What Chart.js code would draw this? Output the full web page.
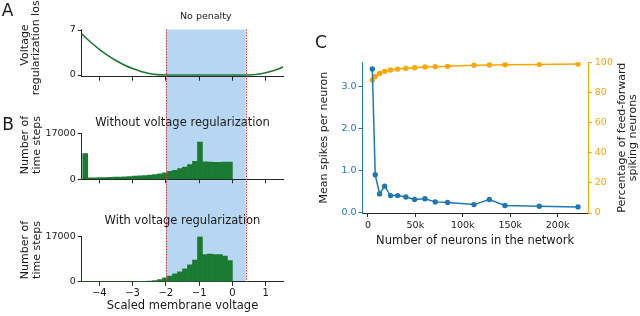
<!DOCTYPE html>
<html><head><meta charset="utf-8">
<script src="https://cdn.jsdelivr.net/npm/chart.js@4.4.1/dist/chart.umd.min.js"></script>
<style>
html,body{margin:0;padding:0;background:#fff;}
#wrap{position:relative;width:640px;height:316px;overflow:hidden;background:#fff;}
canvas{position:absolute;display:block;}
</style></head><body>
<div id="wrap">
<canvas id="cA" width="300" height="100" style="left:0;top:0;width:300px;height:100px"></canvas>
<canvas id="cB1" width="300" height="100" style="left:0;top:100px;width:300px;height:100px"></canvas>
<canvas id="cB2" width="300" height="116" style="left:0;top:200px;width:300px;height:116px"></canvas>
<canvas id="cC" width="340" height="316" style="left:300px;top:0;width:340px;height:316px"></canvas>
</div>
<script>
// ---------- data ----------
// Panel A: voltage regularization loss vs scaled membrane voltage
const lossVoltage = [-4.53, -4.25, -4.0, -3.75, -3.5, -3.25, -3.0, -2.75, -2.5, -2.25, -2.0, -1.0, 0.0, 0.4, 0.6, 0.8, 1.0, 1.2, 1.4, 1.53];
const lossValue   = [6.4, 5.06, 4.0, 3.06, 2.25, 1.56, 1.0, 0.56, 0.25, 0.06, 0.0, 0.0, 0.0, 0.0, 0.04, 0.16, 0.36, 0.64, 0.96, 1.28];
const noPenaltyRange = [-2.0, 0.4];
const voltageTicks = [-4, -3, -2, -1, 0, 1];

// Panel B: histogram bins (centres) and counts
const binCenters = [-4.425, -4.275, -4.125, -3.975, -3.825, -3.675, -3.525, -3.375, -3.225, -3.075,
                    -2.925, -2.775, -2.625, -2.475, -2.325, -2.175, -2.025, -1.875, -1.725, -1.575,
                    -1.425, -1.275, -1.125, -0.975, -0.825, -0.675, -0.525, -0.375, -0.225, -0.075];
const countsWithout = [9500, 500, 550, 600, 650, 700, 780, 850, 950, 1050,
                       1150, 1250, 1400, 1550, 1750, 2000, 2350, 2950, 3300, 3950,
                       4550, 5400, 6650, 13800, 6450, 6400, 6250, 6300, 6400, 6350];
const countsWith = [0, 0, 0, 0, 0, 0, 0, 0, 0, 0,
                    0, 50, 120, 250, 500, 870, 1490, 2100, 2980, 3720,
                    4840, 6330, 8060, 16740, 10170, 10300, 10170, 10170, 9550, 7940];
const countTicks = [0, 17000];

// Panel C
const neurons = [4600, 7700, 12300, 17600, 23900, 31300, 40000, 49200, 60100, 71000, 84000, 111800, 128000, 144500, 180700, 221500];
const meanSpikes = [3.42, 0.90, 0.445, 0.63, 0.405, 0.405, 0.37, 0.31, 0.33, 0.255, 0.24, 0.19, 0.31, 0.167, 0.15, 0.135];
const pctFeedForward = [88.2, 90.6, 92.6, 94.0, 94.9, 95.5, 96.0, 96.4, 96.9, 97.0, 97.3, 98.0, 98.2, 98.4, 98.6, 98.9];
const neuronTicks = [0, 50000, 100000, 150000, 200000];
const spikeTicks = [0, 1, 2, 3];
const pctTicks = [0, 20, 40, 60, 80, 100];

// ---------- styles ----------
const FONT = "'DejaVu Sans', sans-serif";
const GREEN = '#1b7a32';
const SPAN = '#b6d6f1';
const RED = '#e3342f';
const AX = '#262626';
const TXT = '#1a1a1a';
const BLUE = '#1f77b4';
const ORANGE = '#ffa500';
Chart.defaults.font.family = FONT;
Chart.defaults.color = TXT;

function spanPlugin(y0, y1) {
  return {
    id: 'span',
    beforeDraw(chart) {
      const ctx = chart.ctx, xs = chart.scales.x;
      const a = xs.getPixelForValue(noPenaltyRange[0]), b = xs.getPixelForValue(noPenaltyRange[1]);
      ctx.save();
      ctx.fillStyle = SPAN;
      ctx.fillRect(a, y0, b - a, y1 - y0);
      ctx.restore();
    },
    afterDatasetsDraw(chart) {
      const ctx = chart.ctx, xs = chart.scales.x;
      ctx.save();
      ctx.strokeStyle = RED; ctx.lineWidth = 1; ctx.setLineDash([1.5, 1.2]);
      noPenaltyRange.forEach(v => {
        const x = Math.round(xs.getPixelForValue(v)) + 0.5;
        ctx.beginPath(); ctx.moveTo(x, y0); ctx.lineTo(x, y1); ctx.stroke();
      });
      ctx.restore();
    }
  };
}
function textPlugin(itemsFn) {
  return {
    id: 'texts',
    afterDraw(chart) {
      const ctx = chart.ctx;
      itemsFn(chart).forEach(it => {
        ctx.save();
        ctx.font = (it.weight || 'normal') + ' ' + it.size + 'px ' + FONT;
        ctx.fillStyle = it.color || TXT;
        ctx.textAlign = it.align || 'center';
        ctx.textBaseline = 'middle';
        ctx.translate(it.x, it.y);
        if (it.rot) ctx.rotate(it.rot);
        ctx.fillText(it.text, 0, 0);
        ctx.restore();
      });
    }
  };
}
const minus = v => String(v).replace('-', '\u2212');
function xScaleLeft(height, showLabels, title) {
  return {
    type: 'linear', min: -4.53, max: 1.53, offset: false,
    afterBuildTicks: s => { s.ticks = voltageTicks.map(v => ({value: v})); },
    ticks: {display: true, font: {size: 10}, color: TXT, padding: 2, callback: v => showLabels ? minus(v) : '', maxRotation: 0},
    grid: {display: true, drawOnChartArea: false, drawTicks: true, tickLength: 4, tickColor: AX, offset: false},
    border: {display: true, color: AX, width: 1},
    title: title ? {display: true, text: title, font: {size: 11.5}, color: TXT, padding: {top: 0, bottom: 2.6}} : {display: false},
    afterFit: s => { s.height = height; }
  };
}
function yScaleLeft(min, max, ticks) {
  return {
    min: min, max: max,
    afterBuildTicks: s => { s.ticks = ticks.map(v => ({value: v})); },
    ticks: {font: {size: 9.5}, color: TXT, padding: 2, callback: v => String(v)},
    grid: {display: true, drawOnChartArea: false, drawTicks: true, tickLength: 4, tickColor: AX},
    border: {display: true, color: AX, width: 1},
    afterFit: s => { s.width = 81.7; }
  };
}
const common = {responsive: false, animation: false, devicePixelRatio: 1, events: []};

// ---------- Panel A ----------
new Chart(document.getElementById('cA'), {
  type: 'line',
  data: {datasets: [{
    data: lossVoltage.map((v, i) => ({x: v, y: lossValue[i]})),
    borderColor: GREEN, borderWidth: 1.6, pointRadius: 0, fill: false,
    cubicInterpolationMode: 'monotone'
  }]},
  options: Object.assign({}, common, {
    layout: {padding: {top: 29.5, right: 16.7, left: 0, bottom: 0}},
    plugins: {legend: {display: false}, tooltip: {enabled: false}},
    scales: {x: xScaleLeft(23.3, false, null), y: yScaleLeft(-0.26, 7.08, [0, 7])}
  }),
  plugins: [spanPlugin(29.5, 100), textPlugin(ch => [
    {text: 'A', x: 7.5, y: 12, size: 17},
    {text: 'No penalty', x: ch.scales.x.getPixelForValue((noPenaltyRange[0] + noPenaltyRange[1]) / 2), y: 17, size: 9.5},
    {text: 'Voltage', x: 25, y: 45, size: 11, rot: -Math.PI / 2},
    {text: 'regularization loss', x: 36.5, y: 45, size: 11, rot: -Math.PI / 2}
  ])]
});

// ---------- Panel B ----------
function histChart(id, counts, titleText, pt, pb, xHeight, showLabels, xTitle, spanBottom, letter, labelY) {
  new Chart(document.getElementById(id), {
    type: 'bar',
    data: {datasets: [{
      data: binCenters.map((c, i) => ({x: c, y: counts[i]})),
      backgroundColor: GREEN, borderWidth: 0, barPercentage: 1, categoryPercentage: 1, grouped: false
    }]},
    options: Object.assign({}, common, {
      layout: {padding: {top: 0, right: 16.7, left: 0, bottom: 0}},
      plugins: {
        legend: {display: false}, tooltip: {enabled: false},
        title: {display: true, text: titleText, fullSize: false, font: {size: 11.5, weight: 'normal'}, color: TXT, padding: {top: pt, bottom: pb}}
      },
      scales: {x: xScaleLeft(xHeight, showLabels, xTitle), y: yScaleLeft(0, 17000, countTicks)}
    }),
    plugins: [spanPlugin(0, spanBottom), textPlugin(ch => {
      const arr = [
        {text: 'Number of', x: 25.5, y: labelY, size: 11, rot: -Math.PI / 2},
        {text: 'time steps', x: 37, y: labelY, size: 11, rot: -Math.PI / 2}
      ];
      if (letter) arr.push({text: letter, x: 8, y: 26, size: 17});
      return arr;
    })]
  });
}
histChart('cB1', countsWithout, 'Without voltage regularization', 15.8, 3.7, 20.7, false, null, 100, 'B', 45);
histChart('cB2', countsWith, 'With voltage regularization', 14.4, 8.0, 34.2, true, 'Scaled membrane voltage', 82, null, 50);

// ---------- Panel C ----------
new Chart(document.getElementById('cC'), {
  type: 'line',
  data: {datasets: [
    {data: neurons.map((n, i) => ({x: n, y: meanSpikes[i]})), yAxisID: 'y',
     borderColor: BLUE, backgroundColor: BLUE, borderWidth: 1.5, pointRadius: 2.7, pointBorderWidth: 0, tension: 0},
    {data: neurons.map((n, i) => ({x: n, y: pctFeedForward[i]})), yAxisID: 'y2',
     borderColor: ORANGE, backgroundColor: ORANGE, borderWidth: 1.5, pointRadius: 2.7, pointBorderWidth: 0, tension: 0}
  ]},
  options: Object.assign({}, common, {
    layout: {padding: {top: 62.3, right: 0, left: 0, bottom: 63}},
    plugins: {legend: {display: false}, tooltip: {enabled: false}},
    scales: {
      x: {
        type: 'linear', min: -6250, max: 232350,
        afterBuildTicks: s => { s.ticks = neuronTicks.map(v => ({value: v})); },
        ticks: {font: {size: 9.5}, color: TXT, padding: 3, maxRotation: 0, callback: v => v === 0 ? '0' : (v / 1000) + 'k'},
        grid: {display: true, drawOnChartArea: false, drawTicks: true, tickLength: 4, tickColor: AX},
        border: {display: true, color: AX, width: 1},
        title: {display: true, text: 'Number of neurons in the network', font: {size: 11.5}, color: TXT, padding: {top: 0, bottom: 4.6}},
        afterFit: s => { s.height = 40; }
      },
      y: {
        position: 'left', min: -0.01, max: 3.58,
        afterBuildTicks: s => { s.ticks = spikeTicks.map(v => ({value: v})); },
        ticks: {font: {size: 9.5}, color: BLUE, padding: 2, callback: v => v.toFixed(1)},
        grid: {display: true, drawOnChartArea: false, drawTicks: true, tickLength: 3.5, tickColor: BLUE},
        border: {display: true, color: BLUE, width: 1},
        title: {display: true, text: 'Mean spikes per neuron', font: {size: 11}, color: TXT, padding: {top: 17.5, bottom: 0}},
        afterFit: s => { s.width = 62; }
      },
      y2: {
        position: 'right', min: 0, max: 100,
        afterBuildTicks: s => { s.ticks = pctTicks.map(v => ({value: v})); },
        ticks: {font: {size: 9.5}, color: ORANGE, padding: 3, callback: v => String(v)},
        grid: {display: true, drawOnChartArea: false, drawTicks: true, tickLength: 3.5, tickColor: ORANGE},
        border: {display: true, color: ORANGE, width: 1},
        afterFit: s => { s.width = 51.7; }
      }
    }
  }),
  plugins: [textPlugin(ch => [
    {text: 'C', x: 21, y: 44, size: 17},
    {text: 'Percentage of feed-forward', x: 322.4, y: 137.7, size: 11, rot: -Math.PI / 2},
    {text: 'spiking neurons', x: 333.5, y: 137.7, size: 11, rot: -Math.PI / 2}
  ])]
});
</script>
</body></html>
